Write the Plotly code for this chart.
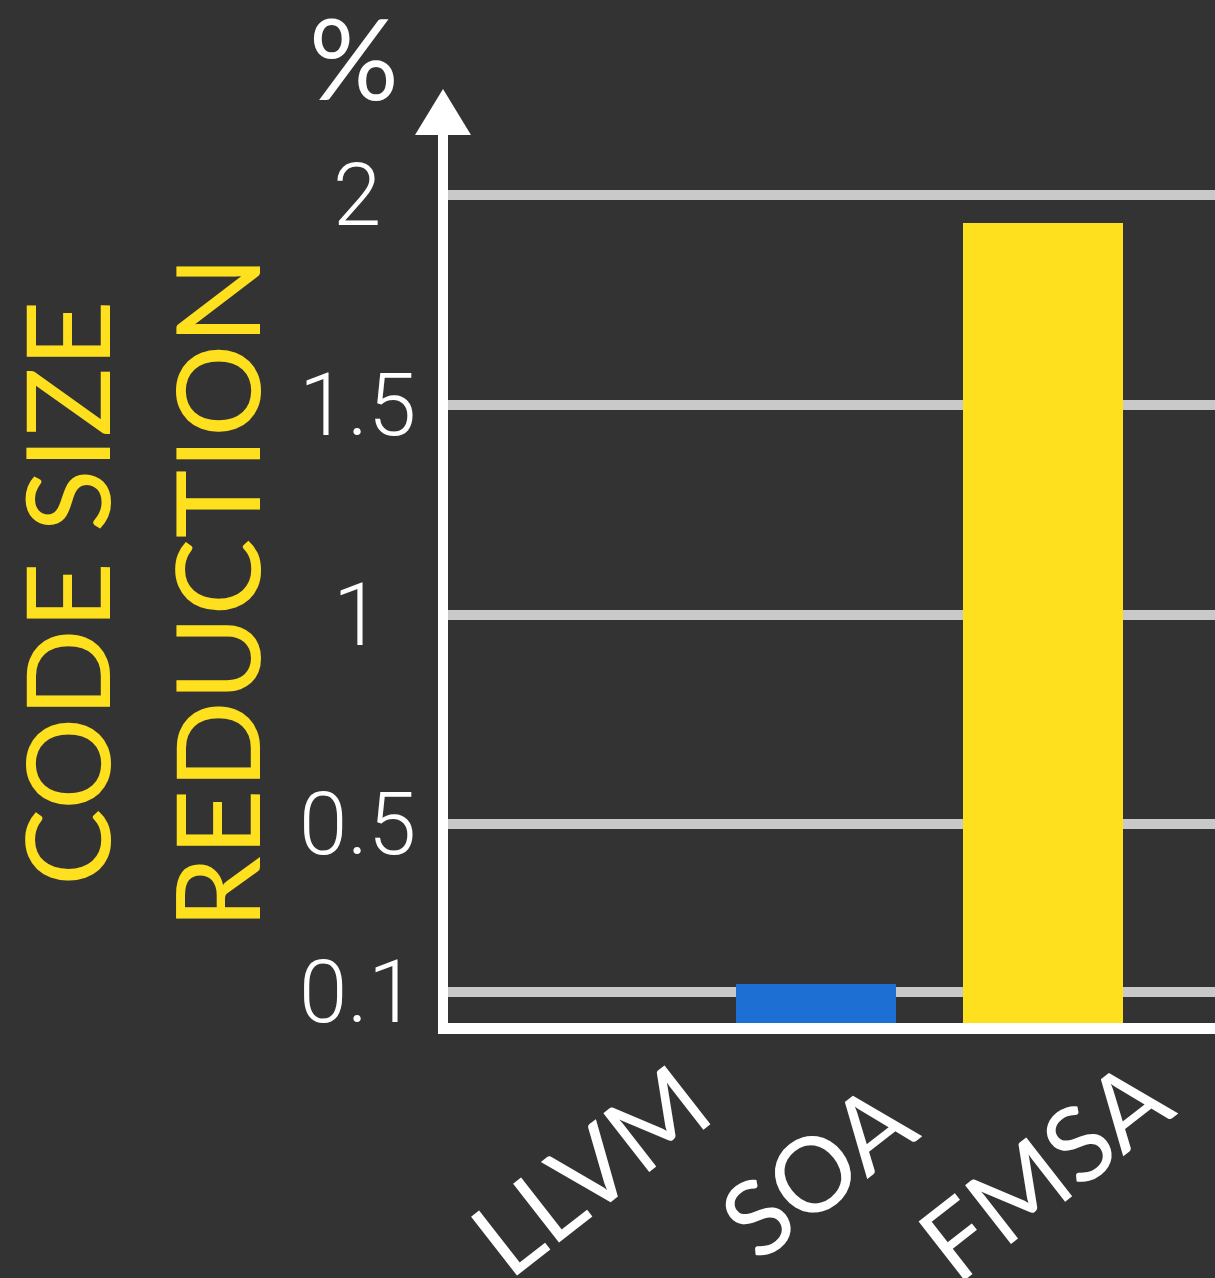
import plotly.graph_objects as go

# Code size reduction per technique (percent)
techniques = ["LLVM", "SOA", "FMSA"]
reduction_pct = [0.0, 0.12, 1.935]
bar_colors = ["#1e6fd4", "#1e6fd4", "#ffe01e"]

# Gridline / tick values and their labels
tick_vals = [0.1, 0.5, 1, 1.5, 2]
tick_text = ["0.1", "0.5", "1", "1.5", "2"]

BG = "#333333"
W, H = 1215, 1278
M_L, M_R, M_T, M_B = 448, 0, 133, 255
PLOT_W = W - M_L - M_R
PLOT_H = H - M_T - M_B


def px_x(px):
    """Horizontal page pixel -> paper coordinate."""
    return (px - M_L) / PLOT_W


def px_y(py):
    """Vertical page pixel (from top) -> paper coordinate."""
    return (H - M_B - py) / PLOT_H


fig = go.Figure(
    go.Bar(
        x=techniques,
        y=reduction_pct,
        marker=dict(color=bar_colors, line=dict(width=0)),
        width=0.705,
        hoverinfo="skip",
    )
)

fig.update_layout(
    width=W,
    height=H,
    margin=dict(l=M_L, r=M_R, t=M_T, b=M_B, pad=0),
    paper_bgcolor=BG,
    plot_bgcolor=BG,
    showlegend=False,
    bargap=0,
)

fig.update_xaxes(
    type="category",
    range=[-0.621, 2.758],
    showgrid=False,
    showticklabels=False,
    ticks="",
    showline=True,
    linecolor="white",
    linewidth=11,
    zeroline=False,
)

fig.update_yaxes(
    range=[0.026, 2.1486],
    tickvals=tick_vals,
    showticklabels=False,
    ticks="",
    showgrid=True,
    gridcolor="#c9c9c9",
    gridwidth=10,
    showline=True,
    linecolor="white",
    linewidth=10,
    zeroline=False,
)

# Arrow head on top of the y axis
ax_l, ax_r, ax_c = px_x(415), px_x(471), px_x(443)
base, tip = px_y(135), px_y(89)
fig.add_shape(
    type="path",
    xref="paper",
    yref="paper",
    path=f"M {ax_l} {base} L {ax_r} {base} L {ax_c} {tip} Z",
    fillcolor="white",
    line=dict(width=0),
    layer="above",
)

num_font = dict(family="Roboto, Liberation Sans, sans-serif", size=87, color="white", weight=300)
title_font = dict(family="Lato, sans-serif", size=116, color="#ffe01e")
cat_font = dict(family="Lato, sans-serif", size=104, color="white")

# Y tick labels, centred on their gridlines
for v, t in zip(tick_vals, tick_text):
    fig.add_annotation(
        text=t, xref="paper", yref="y", x=px_x(357), y=v,
        xanchor="center", yanchor="middle", showarrow=False, font=num_font,
    )

# Unit label above the axis arrow
fig.add_annotation(
    text="%", xref="paper", yref="paper", x=px_x(354), y=px_y(56),
    xanchor="center", yanchor="middle", showarrow=False,
    font=dict(family="Lato, sans-serif", size=112, color="white"),
)

# Rotated axis title (two lines)
for line, cx in (("CODE SIZE", 65), ("REDUCTION", 215)):
    fig.add_annotation(
        text=line, xref="paper", yref="paper", x=px_x(cx), y=px_y(593),
        xanchor="center", yanchor="middle", textangle=-90, showarrow=False,
        font=title_font,
    )

# Slanted category labels below the axis
for name in techniques:
    fig.add_annotation(
        text=name, xref="x", yref="paper", x=name, y=px_y(1167),
        xanchor="center", yanchor="middle", textangle=-38, showarrow=False,
        font=cat_font,
    )

fig.write_html("out.html")
